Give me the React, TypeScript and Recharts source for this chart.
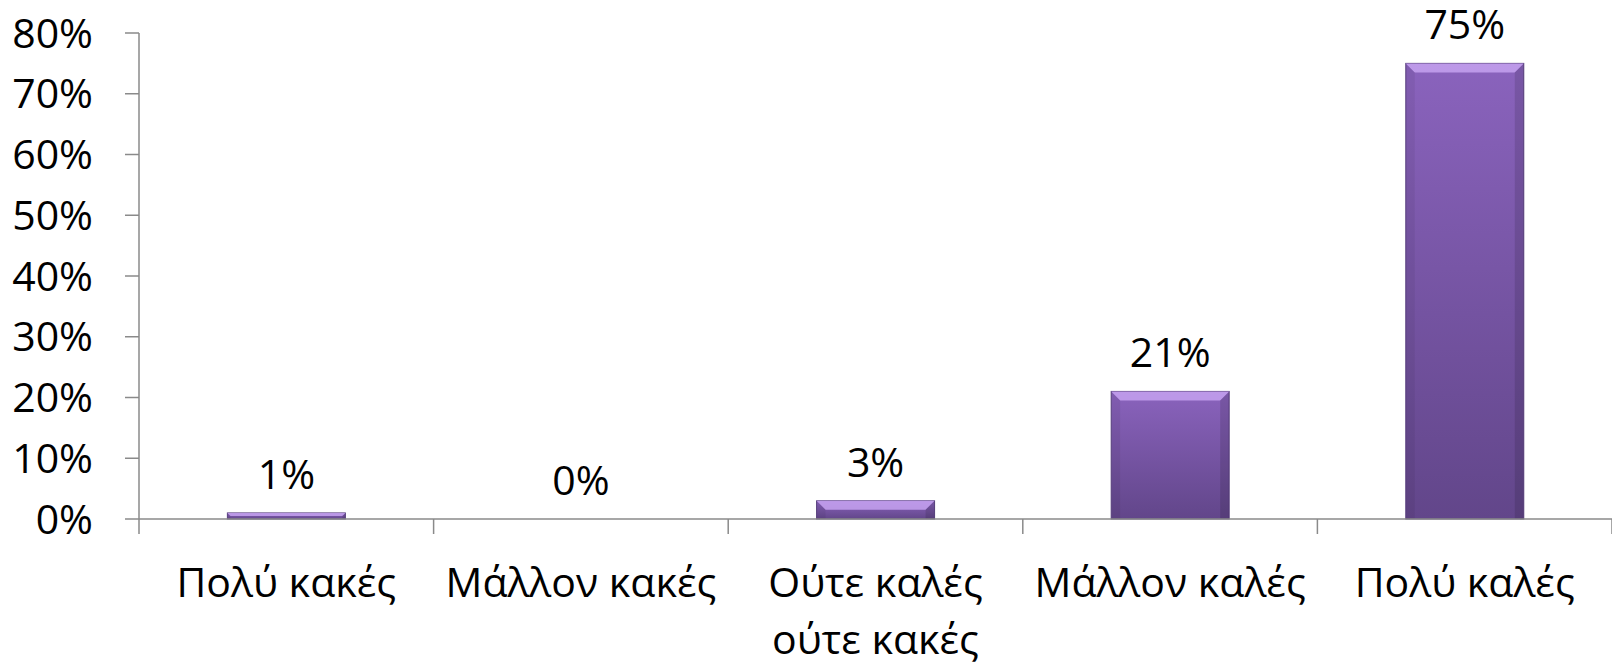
import { BarChart, Bar, XAxis, YAxis, LabelList } from "recharts"

const categories = ["Πολύ κακές", "Μάλλον κακές", "Ούτε καλές\nούτε κακές", "Μάλλον καλές", "Πολύ καλές"]
const shares = [1, 0, 3, 21, 75]
const yTicks = [0, 10, 20, 30, 40, 50, 60, 70, 80]

const data = categories.map((name, i) => ({ name, value: shares[i] }))

const axisColor = "#8a8a8a"
const fontSize = 41

function BevelBar(props: any) {
  const { x, y, width, height } = props
  if (!height || height <= 0) return null
  const b = Math.min(9, height / 2, width / 2)
  return (
    <g>
      <rect x={x} y={y} width={width} height={height} fill="url(#barFill)" stroke="#5a4180" strokeWidth={1} />
      <polygon
        points={`${x},${y} ${x + width},${y} ${x + width - b},${y + b} ${x + b},${y + b}`}
        fill="#c6a2f0"
        opacity={0.85}
      />
      <polygon points={`${x},${y} ${x + b},${y + b} ${x + b},${y + height} ${x},${y + height}`} fill="#000" opacity={0.06} />
      <polygon
        points={`${x + width},${y} ${x + width - b},${y + b} ${x + width - b},${y + height} ${x + width},${y + height}`}
        fill="#000"
        opacity={0.12}
      />
    </g>
  )
}

function CategoryTick(props: any) {
  const { x, y, payload, index } = props
  const half = payload.offset ?? 0
  const axisY = y - 15
  const lines = String(payload.value).split("\n")
  return (
    <g>
      <line x1={x - half} x2={x - half} y1={axisY} y2={axisY + 15} stroke={axisColor} strokeWidth={1.5} />
      {index === categories.length - 1 && (
        <line x1={x + half} x2={x + half} y1={axisY} y2={axisY + 15} stroke={axisColor} strokeWidth={1.5} />
      )}
      <text x={x} y={axisY} textAnchor="middle" fill="#000" fontSize={fontSize}>
        {lines.map((l, i) => (
          <tspan key={i} x={x} y={axisY + 78 + i * 57}>
            {l}
          </tspan>
        ))}
      </text>
    </g>
  )
}

export default function App() {
  return (
    <div style={{ position: "absolute", left: 0, top: 0, fontFamily: "'Open Sans', sans-serif" }}>
      <style>{"body{margin:0}"}</style>
      <BarChart width={1612} height={665} data={data} margin={{ top: 33, right: 0, left: 0, bottom: 0 }} barCategoryGap="30%">
        <defs>
          <linearGradient id="barFill" x1="0" y1="0" x2="0" y2="1">
            <stop offset="0%" stopColor="#8a63bd" />
            <stop offset="100%" stopColor="#62468a" />
          </linearGradient>
        </defs>
        <XAxis
          dataKey="name"
          height={146}
          interval={0}
          tickSize={15}
          tickMargin={0}
          tickLine={false}
          axisLine={{ stroke: axisColor, strokeWidth: 1.5 }}
          tick={<CategoryTick />}
        />
        <YAxis
          width={139}
          domain={[0, 80]}
          ticks={yTicks}
          tickFormatter={(v) => `${v}%`}
          tickSize={14}
          tickMargin={32}
          tick={{ fill: "#000", fontSize }}
          tickLine={{ stroke: axisColor, strokeWidth: 1.5 }}
          axisLine={{ stroke: axisColor, strokeWidth: 1.5 }}
        />
        <Bar dataKey="value" shape={(p: any) => <BevelBar {...p} />} isAnimationActive={false}>
          <LabelList dataKey="value" position="top" offset={24} formatter={(v: any) => `${v}%`} fill="#000" fontSize={fontSize} />
        </Bar>
      </BarChart>
    </div>
  )
}
